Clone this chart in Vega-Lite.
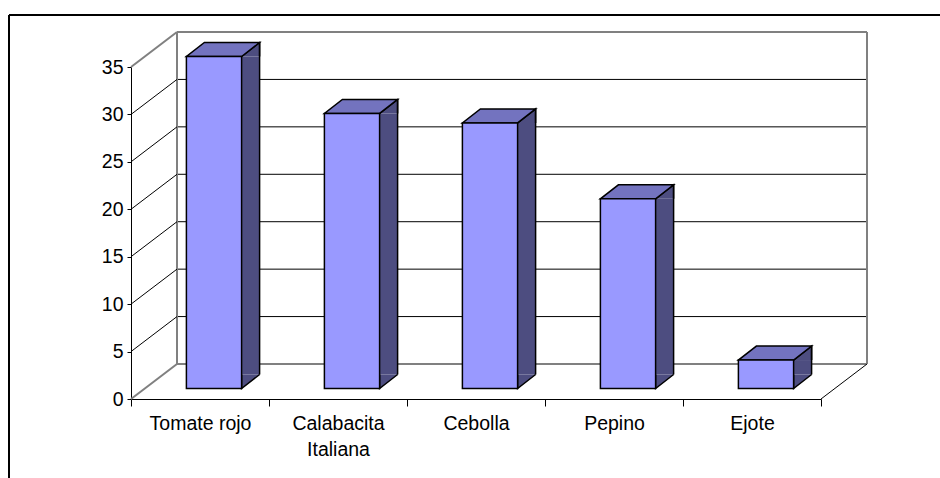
{
  "$schema": "https://vega.github.io/schema/vega-lite/v6.json",
  "width": 690,
  "height": 332,
  "autosize": {"type": "none"},
  "padding": {"left": 131, "top": 67, "right": 119, "bottom": 79},
  "background": "white",
  "config": {
    "view": {"stroke": null},
    "font": "Liberation Sans",
    "axis": {
      "domainColor": "black",
      "domainWidth": 1,
      "tickColor": "black",
      "tickWidth": 1,
      "labelColor": "black",
      "labelFont": "Liberation Sans",
      "labelFontSize": 19.5,
      "grid": false
    },
    "axisY": {"tickSize": 4, "labelPadding": 4, "tickCount": 7},
    "axisX": {"tickBand": "extent", "tickSize": 7, "labelPadding": 8, "labelAngle": 0, "labelLineHeight": 26, "labelOverlap": false}
  },
  "datasets": {
    "productos": [
      {"producto": "Tomate rojo", "cantidad": 35},
      {"producto": "Calabacita Italiana", "cantidad": 29},
      {"producto": "Cebolla", "cantidad": 28},
      {"producto": "Pepino", "cantidad": 20},
      {"producto": "Ejote", "cantidad": 3}
    ],
    "niveles": [{"nivel": 5}, {"nivel": 10}, {"nivel": 15}, {"nivel": 20}, {"nivel": 25}, {"nivel": 30}],
    "bordes": [{"nivel": 0}, {"nivel": 35}]
  },
  "layer": [
    {
      "description": "outer frame, top edge",
      "data": {"values": [{}]},
      "mark": {"type": "rule", "color": "black", "strokeWidth": 2, "xOffset": -191, "x2Offset": 269, "yOffset": -52, "y2Offset": -52},
      "encoding": {
        "x": {"datum": "Tomate rojo", "type": "nominal", "title": null,
              "scale": {"domain": ["Tomate rojo", "Calabacita Italiana", "Cebolla", "Pepino", "Ejote"], "paddingInner": 0, "paddingOuter": 0}},
        "x2": {"datum": "Ejote"},
        "y": {"datum": 35, "type": "quantitative", "title": null, "scale": {"domain": [0, 35], "nice": false}},
        "y2": {"datum": 35}
      }
    },
    {
      "description": "outer frame, left edge",
      "data": {"values": [{}]},
      "mark": {"type": "rule", "color": "black", "strokeWidth": 2, "xOffset": -191, "yOffset": -52, "y2Offset": 120},
      "encoding": {
        "x": {"datum": "Tomate rojo", "type": "nominal", "title": null},
        "y": {"datum": 35, "type": "quantitative", "title": null},
        "y2": {"datum": 0}
      }
    },
    {
      "description": "back wall top and floor back edge",
      "data": {"name": "bordes"},
      "mark": {"type": "rule", "color": "#808080", "strokeWidth": 2, "xOffset": -23, "x2Offset": 115, "yOffset": -35, "y2Offset": -35},
      "encoding": {
        "x": {"datum": "Tomate rojo", "type": "nominal", "title": null},
        "x2": {"datum": "Ejote"},
        "y": {"field": "nivel", "type": "quantitative", "title": null},
        "y2": {"field": "nivel"}
      }
    },
    {
      "description": "back wall gridlines",
      "data": {"name": "niveles"},
      "mark": {"type": "rule", "color": "black", "strokeWidth": 1, "xOffset": -23, "x2Offset": 115, "yOffset": -35, "y2Offset": -35},
      "encoding": {
        "x": {"datum": "Tomate rojo", "type": "nominal", "title": null},
        "x2": {"datum": "Ejote"},
        "y": {"field": "nivel", "type": "quantitative", "title": null},
        "y2": {"field": "nivel"}
      }
    },
    {
      "description": "back wall left side",
      "data": {"values": [{}]},
      "mark": {"type": "rule", "color": "#808080", "strokeWidth": 2, "xOffset": -23, "yOffset": -35, "y2Offset": -35},
      "encoding": {
        "x": {"datum": "Tomate rojo", "type": "nominal", "title": null},
        "y": {"datum": 35, "type": "quantitative", "title": null},
        "y2": {"datum": 0}
      }
    },
    {
      "description": "back wall right side",
      "data": {"values": [{}]},
      "mark": {"type": "rule", "color": "#808080", "strokeWidth": 2, "xOffset": 115, "yOffset": -35, "y2Offset": -35},
      "encoding": {
        "x": {"datum": "Ejote", "type": "nominal", "title": null},
        "y": {"datum": 35, "type": "quantitative", "title": null},
        "y2": {"datum": 0}
      }
    },
    {
      "description": "side wall depth lines",
      "data": {"name": "niveles"},
      "mark": {"type": "point", "shape": "M0,0L46,-35", "size": 4, "filled": false, "stroke": "black", "strokeWidth": 1, "opacity": 1, "xOffset": -69},
      "encoding": {
        "x": {"datum": "Tomate rojo", "type": "nominal", "title": null},
        "y": {"field": "nivel", "type": "quantitative", "title": null}
      }
    },
    {
      "description": "side wall top and bottom edges",
      "data": {"name": "bordes"},
      "mark": {"type": "point", "shape": "M0,0L46,-35", "size": 4, "filled": false, "stroke": "#808080", "strokeWidth": 2, "opacity": 1, "xOffset": -69},
      "encoding": {
        "x": {"datum": "Tomate rojo", "type": "nominal", "title": null},
        "y": {"field": "nivel", "type": "quantitative", "title": null}
      }
    },
    {
      "description": "floor right edge",
      "data": {"values": [{}]},
      "mark": {"type": "point", "shape": "M0,0L46,-35", "size": 4, "filled": false, "stroke": "black", "strokeWidth": 1, "opacity": 1, "xOffset": 69},
      "encoding": {
        "x": {"datum": "Ejote", "type": "nominal", "title": null},
        "y": {"datum": 0, "type": "quantitative", "title": null}
      }
    },
    {
      "description": "bar side face",
      "data": {"name": "productos"},
      "mark": {"type": "bar", "fill": "#4D4D80", "strokeWidth": 0, "width": {"band": 0.1304}, "xOffset": 50.6, "yOffset": -10.5, "y2Offset": -24.5},
      "encoding": {
        "x": {"field": "producto", "type": "nominal", "title": null},
        "y": {"field": "cantidad", "type": "quantitative", "title": null},
        "y2": {"datum": 0}
      }
    },
    {
      "description": "bar side face, upper corner",
      "data": {"name": "productos"},
      "mark": {"type": "point", "shape": "M27.6,0L45.6,-14L45.6,0", "size": 4, "filled": true, "fill": "#4D4D80", "stroke": "black", "strokeWidth": 1.5, "opacity": 1, "xOffset": 14, "yOffset": -10.5},
      "encoding": {
        "x": {"field": "producto", "type": "nominal", "title": null},
        "y": {"field": "cantidad", "type": "quantitative", "title": null}
      }
    },
    {
      "description": "bar side face, lower corner",
      "data": {"name": "productos"},
      "mark": {"type": "point", "shape": "M27.6,-14L27.6,0L45.6,-14", "size": 4, "filled": true, "fill": "#4D4D80", "stroke": "black", "strokeWidth": 1.5, "opacity": 1, "xOffset": 14, "yOffset": -10.5},
      "encoding": {
        "x": {"field": "producto", "type": "nominal", "title": null},
        "y": {"datum": 0, "type": "quantitative", "title": null}
      }
    },
    {
      "description": "bar back vertical edge",
      "data": {"name": "productos"},
      "mark": {"type": "rule", "color": "black", "strokeWidth": 1.5, "xOffset": 59.6, "yOffset": -24.5, "y2Offset": -24.5},
      "encoding": {
        "x": {"field": "producto", "type": "nominal", "title": null},
        "y": {"field": "cantidad", "type": "quantitative", "title": null},
        "y2": {"datum": 0}
      }
    },
    {
      "description": "bar top face",
      "data": {"name": "productos"},
      "mark": {"type": "point", "shape": "M-27.6,0L27.6,0L45.6,-14L-9.6,-14Z", "size": 4, "filled": true, "fill": "#7373BF", "stroke": "black", "strokeWidth": 1.5, "opacity": 1, "xOffset": 14, "yOffset": -10.5},
      "encoding": {
        "x": {"field": "producto", "type": "nominal", "title": null},
        "y": {"field": "cantidad", "type": "quantitative", "title": null}
      }
    },
    {
      "description": "bar front face",
      "data": {"name": "productos"},
      "mark": {"type": "bar", "fill": "#9999FF", "stroke": "black", "strokeWidth": 1.5, "width": {"band": 0.4}, "xOffset": 14, "yOffset": -10.5, "y2Offset": -10.5},
      "encoding": {
        "x": {
          "field": "producto", "type": "nominal", "title": null,
          "axis": {"labelExpr": "datum.label == 'Calabacita Italiana' ? ['Calabacita', 'Italiana'] : datum.label"}
        },
        "y": {"field": "cantidad", "type": "quantitative", "title": null},
        "y2": {"datum": 0}
      }
    }
  ]
}
